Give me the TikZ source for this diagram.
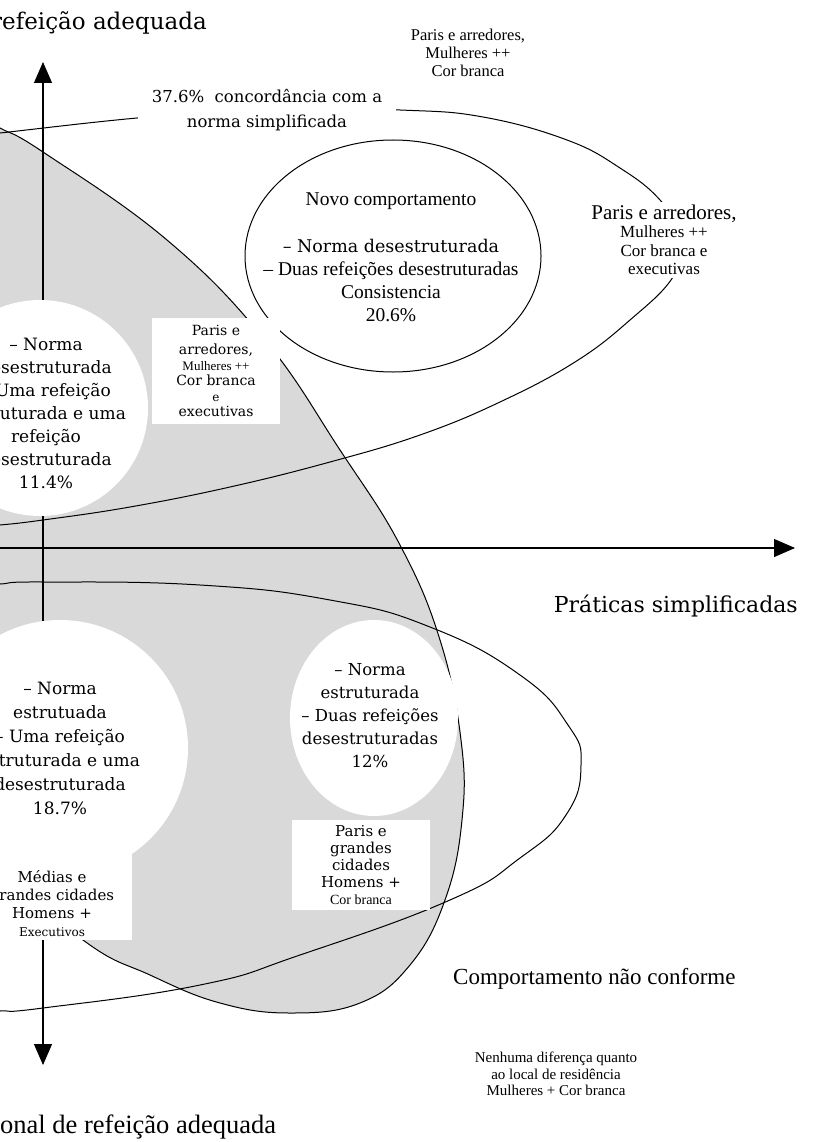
\documentclass[tikz,border=0pt]{standalone}
\usepackage{fontspec}
\setmainfont{Liberation Serif}
\newfontfamily\widefont{DejaVu Serif}
\usetikzlibrary{arrows.meta,shapes.geometric}

\begin{document}
\begin{tikzpicture}[
    x=1pt, y=-1pt,
    % Axes
    axis/.style={-{Triangle[length=21pt, width=18pt]}, line width=1.1pt},
    % Zones
    zone/.style={line width=1pt},
    hole/.style={circle, fill=white, inner sep=0pt},
    % Texts
    txt/.style={align=center, inner sep=1pt},
    tag/.style={rectangle, fill=white, align=center, inner sep=0pt}
]

\useasboundingbox (0,0) rectangle (814,1142);
\clip (0,0) rectangle (814,1142);

% Grey zone
\filldraw[zone, fill=black!15] plot[smooth, tension=0.7] coordinates {
    (-20,117) (0,128) (43,152) (167,240) (265,340) (340,450) (400,545)
    (440,640) (461,740) (462,820) (445,900) (410,965) (360,1003)
    (290,1013) (220,1003) (150,975) (83,940) (-20,850)}
    -- (-60,850) -- (-60,117) -- cycle;

% Zones
\draw[zone] plot[smooth, tension=0.7] coordinates {
    (-20,135) (0,133) (137,118) (270,108) (400,110) (483,117) (567,140)
    (620,168) (660,200) (683,238) (673,277) (630,320) (575,362)
    (500,402) (420,435) (330,462) (230,487) (130,507) (43,520)
    (0,525) (-20,526)};
\draw[zone] plot[smooth, tension=0.8] coordinates {
    (-20,585) (0,584) (43,582) (200,585) (330,600) (430,627) (520,675)
    (568,725) (581,765) (566,815) (520,858) (450,900)
    (300,955) (200,985) (43,1008) (0,1011) (-20,1012)};
\draw[zone] (393,256) ellipse [x radius=148, y radius=116];

% Axes
\coordinate (origin) at (43,548);
\coordinate (ytop) at (43,62);
\coordinate (ybot) at (43,1065);
\coordinate (xleft) at (-5,548);
\coordinate (xright) at (795,548);
\draw[axis] (origin) -- (ytop);
\draw[axis] (origin) -- (ybot);
\draw[axis] (xleft) -- (xright);

% Holes
\node[hole, minimum size=216pt] (holeA) at (40,408) {};
\node[hole, minimum size=256pt] (holeB) at (60,748) {};
\node[hole, ellipse, minimum width=168pt, minimum height=196pt] (holeC) at (374,718) {};

% Boxes
\node[tag, minimum width=128pt, minimum height=106pt,
      font=\widefont\fontsize{14}{15.5}\selectfont] (boxA) at (216,371) {
    Paris e\\[4pt]
    arredores,\\
    {\rmfamily\fontsize{13}{15}\selectfont Mulheres ++}\\
    Cor branca\\
    {\fontsize{12}{14}\selectfont e}\\
    executivas
};
\node[tag, minimum width=138pt, minimum height=90pt,
      font=\widefont\fontsize{15}{17}\selectfont] (boxB) at (361,865) {
    Paris e\\
    grandes\\
    cidades\\
    Homens +\\
    {\rmfamily\fontsize{14}{16}\selectfont Cor branca}
};
\node[tag, minimum width=132pt, minimum height=93pt] (boxC) at (66,893.5) {};

% Circle texts
\node[txt, font=\widefont\fontsize{17}{23}\selectfont] (txtA) at (46,413) {
    – Norma\\
    desestruturada\\
    – Uma refeição\\
    estruturada e uma\\
    refeição\\
    desestruturada\\
    11.4\%
};
\node[txt, font=\widefont\fontsize{17}{24}\selectfont] (txtB) at (60,748) {
    – Norma\\
    estrutuada\\
    – Uma refeição\\
    estruturada e uma\\
    desestruturada\\
    18.7\%
};
\node[txt, font=\widefont\fontsize{16.5}{23}\selectfont] (txtC) at (370,716) {
    – Norma\\
    estruturada\\
    – Duas refeições\\
    desestruturadas\\
    12\%
};
\node[txt, font=\widefont\fontsize{15}{18}\selectfont] (txtBoxC) at (52,904) {
    Médias e\\
    grandes cidades\\
    Homens +\\
    {\fontsize{12}{14}\selectfont Executivos}
};

% Novo comportamento
\node[txt, font=\fontsize{19.5}{23}\selectfont] (novo) at (391,257) {
    Novo comportamento\\[24pt]
    {\widefont\fontsize{17.5}{23}\selectfont – Norma desestruturada}\\
    – Duas refeições desestruturadas\\
    Consistencia\\
    20.6\%
};

% Labels
\node[txt, fill=white, inner xsep=14pt, inner ysep=4pt,
      font=\widefont\fontsize{16.5}{25}\selectfont] (concord) at (267,110) {
    37.6\%\ \ concordância com a\\
    norma simplificada
};
\node[txt, font=\fontsize{16.5}{18}\selectfont] (parisTop) at (468,53) {
    Paris e arredores,\\
    Mulheres ++\\
    Cor branca
};
\node[txt, fill=white, inner sep=3pt, font=\fontsize{17}{18.5}\selectfont] (parisRight) at (664,240) {
    {\fontsize{21}{21}\selectfont Paris e arredores,}\\
    Mulheres ++\\
    Cor branca e\\
    executivas
};
\node[txt, font=\fontsize{23}{27}\selectfont, anchor=base west] (naoConf) at (452,984) {Comportamento não conforme};
\node[txt, font=\fontsize{15}{16.5}\selectfont] (nenhuma) at (556,1074) {
    Nenhuma diferença quanto\\
    ao local de residência\\
    Mulheres + Cor branca
};

% Axis labels
\node[txt, font=\widefont\fontsize{23}{27}\selectfont, anchor=base west] (yTop) at (-10,30) {refeição adequada};
\node[txt, font=\fontsize{26.5}{30}\selectfont, anchor=base west] (yBot) at (-1,1133) {onal de refeição adequada};
\node[txt, font=\widefont\fontsize{22}{26}\selectfont, anchor=base east] (xRight) at (799,612) {Práticas simplificadas};

\end{tikzpicture}
\end{document}
